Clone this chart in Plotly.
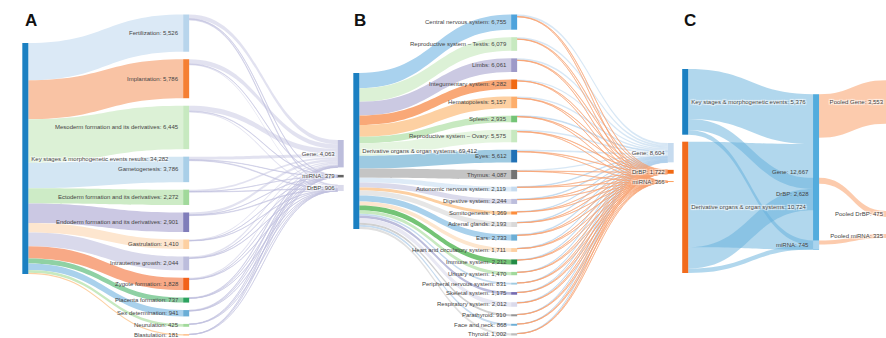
import plotly.graph_objects as go

W, H = 886, 338

# ---------------- Panel A data ----------------
A_root = "Key stages & morphogenetic events results"
A_stages = ["Fertilization", "Implantation", "Mesoderm formation and its derivatives",
            "Gametogenesis", "Ectoderm formation and its derivatives",
            "Endoderm formation and its derivatives", "Gastrulation", "Intrauterine growth",
            "Zygote formation", "Placenta formation", "Sex determination", "Neurulation",
            "Blastulation"]
A_counts = [5526, 5786, 6445, 3786, 2272, 2901, 1410, 2044, 1828, 737, 941, 425, 181]
A_types = ["Gene", "miRNA", "DrBP"]
A_gene = [620, 700, 780, 450, 280, 360, 170, 230, 210, 90, 110, 45, 18]
A_mirna = [60, 55, 70, 40, 25, 30, 15, 25, 20, 10, 15, 8, 6]
A_drbp = [140, 150, 170, 100, 60, 80, 40, 55, 50, 20, 25, 10, 6]

# ---------------- Panel B data ----------------
B_root = "Derivative organs & organ systems"
B_root_label_value = 69412
B_organs = ["Central nervous system", "Reproductive system – Testis", "Limbs",
            "Integumentary system", "Hematopoiesis", "Spleen", "Reproductive system – Ovary",
            "Eyes", "Thymus", "Autonomic nervous system", "Digestive system", "Somitogenesis",
            "Adrenal glands", "Ears", "Heart and circulatory system", "Immune system",
            "Urinary system", "Peripheral nervous system", "Skeletal system",
            "Respiratory system", "Parathyroid", "Face and neck", "Thyroid"]
B_counts = [6755, 6079, 6061, 4282, 5157, 2935, 5575, 5612, 4087, 2119, 2244, 1369, 2193,
            2733, 1711, 2212, 1470, 831, 1175, 2012, 910, 868, 1002]
B_types = ["Gene", "DrBP", "miRNA"]
B_gene = [850, 760, 740, 540, 640, 360, 690, 700, 500, 260, 280, 170, 270, 340, 210, 270,
          180, 100, 150, 250, 110, 104, 130]
B_drbp = [170, 150, 150, 105, 130, 72, 138, 140, 100, 52, 56, 34, 54, 68, 42, 55, 36, 20,
          29, 50, 22, 22, 27]
B_mirna = [36, 32, 32, 23, 27, 15, 29, 30, 22, 11, 12, 7, 12, 14, 9, 12, 8, 4, 6, 11, 5, 5, 4]

# ---------------- Panel C data ----------------
C_sources = ["Key stages & morphogenetic events", "Derivative organs & organ systems"]
C_source_totals = [5376, 10724]
C_types = ["Gene", "DrBP", "miRNA"]
C_type_totals = [12667, 2628, 745]
C_pooled = ["Pooled Gene", "Pooled DrBP", "Pooled miRNA"]
C_pooled_totals = [3553, 475, 335]

# ---------------- styles ----------------
FONT = "Liberation Sans, Arial, sans-serif"
TXT = "#444444"
FS = 6
ROOT_BLUE = "#1b80c2"
A_stage_colors = ["#b8d5ec", "#f57f33", "#c7e9c0", "#a9cfe8", "#a1d99b", "#807dba",
                  "#fdd0a2", "#bcbddc", "#f2621a", "#2ca25f", "#6baed6", "#a1d99b", "#fdae6b"]
A_flow_colors = ["#dbe9f6", "#f9c3a4", "#dcf1d6", "#d3e6f3", "#cdebc6", "#cbc8e3",
                 "#fde6cf", "#d9d9eb", "#f8a986", "#8fd1a4", "#a9d1ec", "#c7e9c0", "#fdd0a2"]
A_type_colors = ["#bcbddc", "#636363", "#dadaeb"]
A_out_color = "rgba(190,190,222,0.45)"

B_organ_colors = ["#4ea3dc", "#c7e9c0", "#9e9ac8", "#f16913", "#fdae6b", "#74c476",
                  "#c7e9c0", "#2171b5", "#737373", "#c6dbef", "#bcbddc", "#fd8d3c",
                  "#d9d9d9", "#6baed6", "#fdd0a2", "#238b45", "#a1d99b", "#9ecae1",
                  "#756bb1", "#dadaeb", "#969696", "#6baed6", "#bdbdbd"]
B_flow_colors = ["#a9d2ee", "#dcf1d6", "#cbc9e2", "#f9a877", "#fdd0a2", "#c7e9c0",
                 "#e5f5e0", "#9ecae1", "#c4c4c4", "#deebf7", "#dadaeb", "#fdd0a2",
                 "#e6e6e6", "#a9d1ec", "#fde6ce", "#74c476", "#c7e9c0", "#c6dbef",
                 "#bcbddc", "#e8e8f3", "#d0d0d0", "#c6dbef", "#e0e0e0"]
B_type_colors = ["#c6dbef", "#f16913", "#fd8d3c"]
B_out_colors = ["rgba(175,208,236,0.5)", "rgba(247,160,110,0.5)", "rgba(247,160,110,0.5)"]

C_source_colors = [ROOT_BLUE, "#f26b1d"]
C_type_colors = ["#52acdd", "#52acdd", "#a9d4ee"]
C_pooled_colors = ["#fbc6a4", "#fbc6a4", "#fbc6a4"]
C_in_color = "rgba(100,175,220,0.5)"
C_out_color = "rgba(250,168,118,0.6)"

THICK = 6


def fmt(name, v):
    return f"{name}: {v:,}"


def node_values(n, src, tgt, val):
    vin = [0] * n
    vout = [0] * n
    for s, t, v in zip(src, tgt, val):
        vout[s] += v
        vin[t] += v
    return [max(a, b) for a, b in zip(vin, vout)]


def positions(n, src, tgt, val, columns, col_x, col_top, hpx, pad, centers=None):
    """Node centres (normalised) from stacked values, using plotly's own value scale."""
    nv = node_values(n, src, tgt, val)
    ky = min((hpx - (len(c) - 1) * pad) / sum(nv[i] for i in c) for c in columns)
    xs, ys = [0.0] * n, [0.0] * n
    for c, x, top in zip(columns, col_x, col_top):
        y = top
        for i in c:
            h = nv[i] * ky
            xs[i] = x
            ys[i] = (y + h / 2) / hpx
            y += h + pad
    if centers:
        for i, cpx in centers.items():
            ys[i] = cpx / hpx
    return xs, ys


def dom(x0, x1, y0, y1):
    return dict(x=[x0 / W, x1 / W], y=[1 - y1 / H, 1 - y0 / H])


fig = go.Figure()
side_labels = []  # (text, x_px_right_edge, y_px_center)


def left_labels(idx, labels, xs, ys, x0, wdom, y0, hdom):
    for i in idx:
        cx = x0 + xs[i] * wdom
        cy = y0 + ys[i] * hdom
        side_labels.append((labels[i], cx - THICK / 2 - 2, cy))


# ---------------- Panel A ----------------
nA = 1 + len(A_stages) + len(A_types)
srcA, tgtA, valA, colA = [], [], [], []
for i, v in enumerate(A_counts):
    srcA.append(0); tgtA.append(1 + i); valA.append(v); colA.append(A_flow_colors[i])
for k, arr in enumerate([A_gene, A_mirna, A_drbp]):
    for i, v in enumerate(arr):
        srcA.append(1 + i); tgtA.append(1 + len(A_stages) + k); valA.append(v)
        colA.append(A_out_color)
A_type_totals = [sum(A_gene), sum(A_mirna), sum(A_drbp)]
labA = [fmt(A_root, sum(A_counts))] + [fmt(s, v) for s, v in zip(A_stages, A_counts)] + \
       [fmt(t, v) for t, v in zip(A_types, A_type_totals)]
midA = list(range(1, 1 + len(A_stages)))
colsA = [[0], midA, list(range(1 + len(A_stages), nA))]
ax0, ax1, ay0, hA, padA = 25, 341, 14, 321, 7.5
xA, yA = positions(nA, srcA, tgtA, valA, colsA, [0.001, 0.51, 0.999], [29, 0.5, 126], hA, padA)
left_labels(midA, labA, xA, yA, ax0, ax1 - ax0, ay0, hA)
fig.add_trace(go.Sankey(
    domain=dom(ax0, ax1, ay0, ay0 + hA), arrangement="fixed", hoverinfo="none",
    textfont=dict(family=FONT, size=FS, color=TXT),
    node=dict(label=["" if i in midA else l for i, l in enumerate(labA)], x=xA, y=yA,
              pad=padA, thickness=THICK, line=dict(width=0),
              color=[ROOT_BLUE] + A_stage_colors + A_type_colors, hoverinfo="none"),
    link=dict(source=srcA, target=tgtA, value=valA, color=colA, hoverinfo="none"),
))

# ---------------- Panel B ----------------
nB = 1 + len(B_organs) + len(B_types)
srcB, tgtB, valB, colB = [], [], [], []
for i, v in enumerate(B_counts):
    srcB.append(0); tgtB.append(1 + i); valB.append(v); colB.append(B_flow_colors[i])
for k, arr in enumerate([B_gene, B_drbp, B_mirna]):
    for i, v in enumerate(arr):
        srcB.append(1 + i); tgtB.append(1 + len(B_organs) + k); valB.append(v)
        colB.append(B_out_colors[k])
B_type_totals = [sum(B_gene), sum(B_drbp), sum(B_mirna)]
labB = [fmt(B_root, B_root_label_value)] + [fmt(s, v) for s, v in zip(B_organs, B_counts)] + \
       [fmt(t, v) for t, v in zip(B_types, B_type_totals)]
midB = list(range(1, 1 + len(B_organs)))
colsB = [[0], midB, list(range(1 + len(B_organs), nB))]
bx0, bx1, by0, hB, padB = 356, 671, 14, 321, 7.5
xB, yB = positions(nB, srcB, tgtB, valB, colsB, [0.001, 0.502, 0.999], [59, 0.5, 129], hB, padB)
left_labels(midB, labB, xB, yB, bx0, bx1 - bx0, by0, hB)
fig.add_trace(go.Sankey(
    domain=dom(bx0, bx1, by0, by0 + hB), arrangement="fixed", hoverinfo="none",
    textfont=dict(family=FONT, size=FS, color=TXT),
    node=dict(label=["" if i in midB else l for i, l in enumerate(labB)], x=xB, y=yB,
              pad=padB, thickness=THICK, line=dict(width=0),
              color=[ROOT_BLUE] + B_organ_colors + B_type_colors, hoverinfo="none"),
    link=dict(source=srcB, target=tgtB, value=valB, color=colB, hoverinfo="none"),
))

# ---------------- Panel C ----------------
nC = 2 + 3 + 3
srcC, tgtC, valC, colC = [], [], [], []
A_to_C = [A_type_totals[A_types.index(t)] for t in C_types]
B_to_C = [B_type_totals[B_types.index(t)] for t in C_types]
for s, arr in enumerate([A_to_C, B_to_C]):
    for k, v in enumerate(arr):
        srcC.append(s); tgtC.append(2 + k); valC.append(v); colC.append(C_in_color)
for k, v in enumerate(C_pooled_totals):
    srcC.append(2 + k); tgtC.append(5 + k); valC.append(v); colC.append(C_out_color)
labC = [fmt(s, v) for s, v in zip(C_sources, C_source_totals)] + \
       [fmt(t, v) for t, v in zip(C_types, C_type_totals)] + \
       [fmt(p, v) for p, v in zip(C_pooled, C_pooled_totals)]
midC = [2, 3, 4]
cx0, cx1, cy0, hC, padC = 685, 886, 66, 211, 7
colsC = [[0, 1], midC, [5, 6, 7]]
xC, yC = positions(nC, srcC, tgtC, valC, colsC, [0.001, 0.652, 1.015], [3, 28, 0.5], hC, padC,
                   centers={2: 106, 3: 128, 4: 179, 5: 36, 6: 148, 7: 170})
left_labels(midC, labC, xC, yC, cx0, cx1 - cx0, cy0, hC)
fig.add_trace(go.Sankey(
    domain=dom(cx0, cx1, cy0, cy0 + hC), arrangement="fixed", hoverinfo="none",
    textfont=dict(family=FONT, size=FS, color=TXT),
    node=dict(label=["" if i in midC else l for i, l in enumerate(labC)], x=xC, y=yC,
              pad=padC, thickness=THICK, line=dict(width=0),
              color=C_source_colors + C_type_colors + C_pooled_colors, hoverinfo="none"),
    link=dict(source=srcC, target=tgtC, value=valC, color=colC, hoverinfo="none"),
))

# labels of middle-column nodes sit on the left of their node
for text, xr, yc in side_labels:
    fig.add_annotation(text=text, x=xr / W, y=1 - yc / H, xref="paper", yref="paper",
                       xanchor="right", yanchor="middle", showarrow=False,
                       font=dict(family=FONT, size=FS, color=TXT))

for letter, xpx in [("A", 23), ("B", 352), ("C", 682)]:
    fig.add_annotation(text=f"<b>{letter}</b>", x=xpx / W, y=1 - 21 / H, xref="paper",
                       yref="paper", xanchor="left", yanchor="middle", showarrow=False,
                       font=dict(family=FONT, size=17, color="#111"))

fig.update_layout(width=W, height=H, margin=dict(l=0, r=0, t=0, b=0),
                  paper_bgcolor="white", plot_bgcolor="white", showlegend=False)
fig.write_html("out.html", config={"displayModeBar": False},
               post_script="document.body.style.margin='0';")
